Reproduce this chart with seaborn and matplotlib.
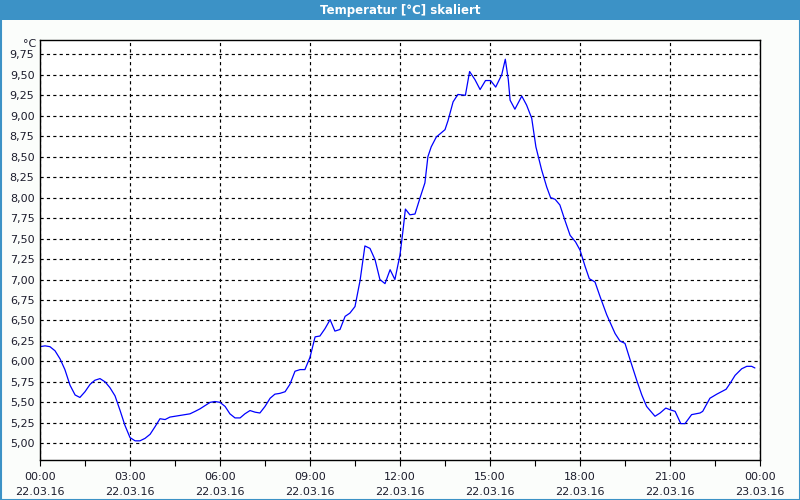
import numpy as np
import pandas as pd
import matplotlib
matplotlib.use("Agg")
import matplotlib.pyplot as plt
import matplotlib.dates as mdates
from matplotlib.ticker import FuncFormatter, MultipleLocator
from matplotlib.patches import Rectangle
import seaborn as sns

# ---- data (hours after 22.03.16 00:00, temperature in °C) ----
hours = [0.00, 0.17, 0.33, 0.50, 0.67, 0.83, 1.00, 1.17, 1.33, 1.50, 1.67, 1.83,
         2.00, 2.17, 2.33, 2.50, 2.67, 2.83, 3.00, 3.17, 3.33, 3.50, 3.67, 3.83,
         4.00, 4.17, 4.33, 4.50, 4.67, 4.83, 5.00, 5.17, 5.33, 5.50, 5.67, 5.83,
         6.00, 6.17, 6.33, 6.50, 6.67, 6.83, 7.00, 7.17, 7.33, 7.50, 7.67, 7.83,
         8.00, 8.17, 8.33, 8.50, 8.67, 8.83, 9.00, 9.17, 9.33, 9.50, 9.67, 9.83,
         10.00, 10.17, 10.33, 10.50, 10.67, 10.83, 11.00, 11.17, 11.33, 11.50, 11.67, 11.83,
         12.00, 12.10, 12.18, 12.33, 12.50, 12.67, 12.83, 12.93, 13.04, 13.21, 13.50, 13.60,
         13.77, 13.93, 14.18, 14.32, 14.50, 14.67, 14.85, 15.02, 15.19, 15.39, 15.51, 15.61,
         15.67, 15.83, 16.06, 16.22, 16.39, 16.53, 16.72, 16.89, 17.02, 17.17, 17.33, 17.50,
         17.67, 17.85, 18.00, 18.17, 18.31, 18.50, 18.67, 18.89, 19.17, 19.33, 19.50, 19.67,
         19.89, 20.06, 20.22, 20.50, 20.67, 20.86, 21.00, 21.17, 21.36, 21.50, 21.72, 22.00,
         22.09, 22.33, 22.56, 22.87, 23.00, 23.17, 23.39, 23.56, 23.72, 23.83]
temps = [6.18, 6.19, 6.18, 6.13, 6.03, 5.90, 5.71, 5.59, 5.56, 5.63, 5.72, 5.77,
         5.79, 5.75, 5.68, 5.58, 5.40, 5.22, 5.07, 5.03, 5.03, 5.06, 5.11, 5.20,
         5.30, 5.29, 5.32, 5.33, 5.34, 5.35, 5.36, 5.39, 5.42, 5.46, 5.50, 5.51,
         5.50, 5.45, 5.36, 5.31, 5.31, 5.36, 5.40, 5.38, 5.37, 5.45, 5.55, 5.60,
         5.61, 5.63, 5.72, 5.88, 5.90, 5.90, 6.05, 6.30, 6.31, 6.40, 6.51, 6.37,
         6.39, 6.55, 6.59, 6.67, 6.99, 7.41, 7.38, 7.24, 7.00, 6.95, 7.12, 7.00,
         7.30, 7.60, 7.86, 7.79, 7.80, 8.00, 8.18, 8.50, 8.62, 8.74, 8.83, 8.94,
         9.17, 9.26, 9.25, 9.54, 9.44, 9.32, 9.43, 9.43, 9.35, 9.50, 9.69, 9.44,
         9.19, 9.08, 9.24, 9.13, 8.97, 8.62, 8.34, 8.13, 8.00, 7.98, 7.91, 7.72,
         7.54, 7.46, 7.36, 7.16, 7.01, 6.97, 6.79, 6.57, 6.34, 6.25, 6.22, 6.02,
         5.77, 5.59, 5.45, 5.33, 5.37, 5.43, 5.41, 5.39, 5.24, 5.24, 5.35, 5.37,
         5.39, 5.55, 5.60, 5.66, 5.73, 5.83, 5.91, 5.94, 5.94, 5.92]

start = pd.Timestamp("2016-03-22 00:00")
end = pd.Timestamp("2016-03-23 00:00")
title = "Temperatur [°C] skaliert"
unit = "°C"

df = pd.DataFrame({"time": start + pd.to_timedelta(hours, unit="h"), "temp": temps})

sns.set_style("white")
plt.rcParams["font.family"] = ["DejaVu Sans"]

bg = "#fbfdfb"
blue = "#3c92c6"
txt = "#1c1c2c"

fig = plt.figure(figsize=(8, 5), dpi=100, facecolor=bg)
ax = fig.add_axes([40 / 800, 1 - 460 / 500, 720 / 800, 420 / 500])
ax.set_facecolor("white")

# window title bar & frame
fig.patches.append(Rectangle((0, 1 - 20 / 500), 1, 20 / 500, transform=fig.transFigure,
                             facecolor=blue, edgecolor="none", zorder=0))
fig.patches.append(Rectangle((0.5 / 800, 0.5 / 500), 799 / 800, 499 / 500, transform=fig.transFigure,
                             facecolor="none", edgecolor=blue, linewidth=1.5, zorder=0))
fig.text(0.5, 1 - 10.5 / 500, title, ha="center", va="center", color="white",
         fontsize=8.5, fontweight="bold")

sns.lineplot(data=df, x="time", y="temp", ax=ax, color="#0000ff", linewidth=0.9)

ax.set_xlim(start, end)
ax.set_ylim(4.796, 9.925)

ax.xaxis.set_major_locator(mdates.HourLocator(byhour=range(0, 24, 3)))
ax.xaxis.set_major_formatter(mdates.DateFormatter("%H:%M\n%d.%m.%y"))
minor_pos = mdates.date2num(pd.date_range(start, end, freq="90min"))
ax.set_xticks(minor_pos, minor=True)
ax.yaxis.set_major_locator(MultipleLocator(0.25))
ax.yaxis.set_major_formatter(FuncFormatter(lambda v, p: f"{v:.2f}".replace(".", ",")))

ax.grid(True, which="major", color="black", linestyle=(0, (2.7, 2.7)), linewidth=0.85)
ax.tick_params(axis="x", which="both", direction="out", length=4, width=0.8, color="black",
               pad=5, labelsize=8, labelcolor=txt, bottom=True)
ax.tick_params(axis="y", which="both", length=0, pad=4, labelsize=8, labelcolor=txt, left=True)
for lab in ax.get_xticklabels():
    lab.set_linespacing(1.55)

for s in ax.spines.values():
    s.set_visible(True)
    s.set_color("black")
    s.set_linewidth(1.0)

ax.set_xlabel("")
ax.set_ylabel("")
ax.text(-0.005, 1 - 4 / 420, unit, transform=ax.transAxes, ha="right", va="center",
        fontsize=8, color=txt)

fig.savefig("out.png", dpi=100, facecolor=bg)
